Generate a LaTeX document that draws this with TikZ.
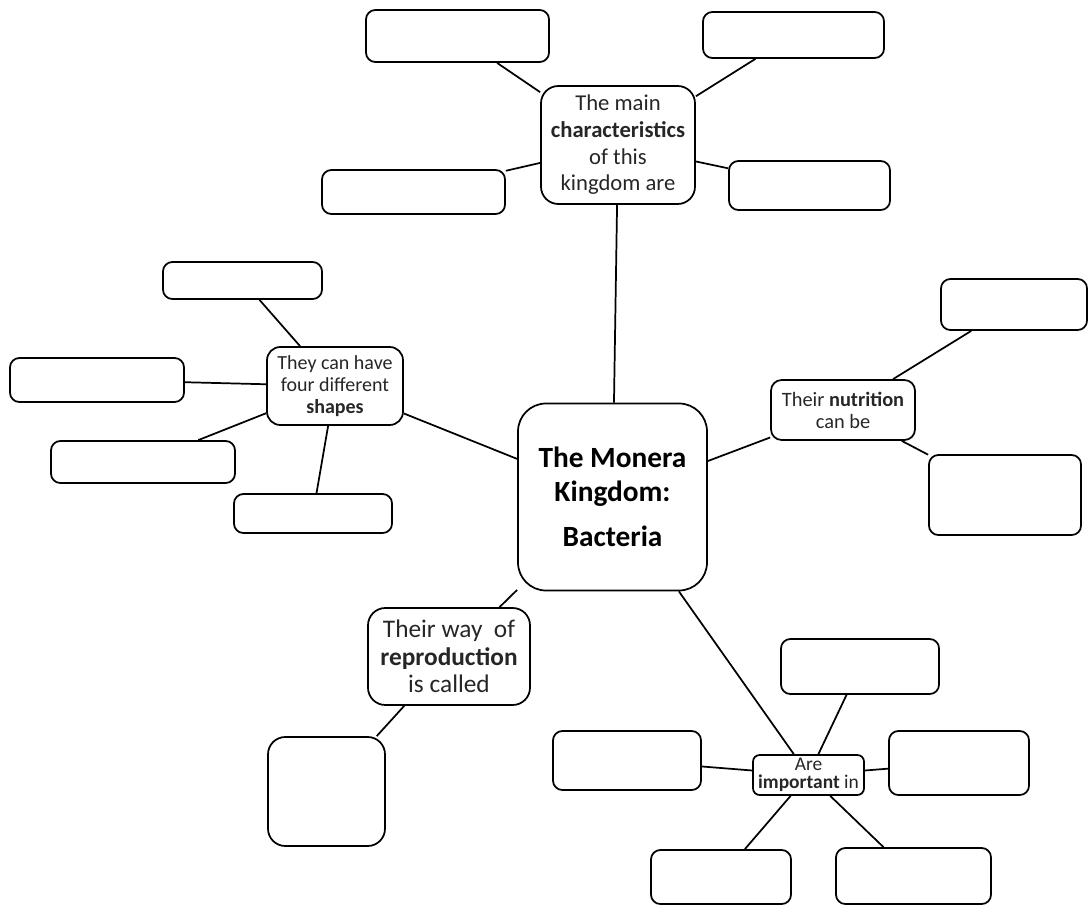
\documentclass[tikz,border=0pt]{standalone}
\usepackage{fontspec}
\setmainfont{Carlito}

\tikzset{
	sz/.style 2 args={minimum width=#1*0.75pt, minimum height=#2*0.75pt},
	blank/.style={draw, line width=1.3pt, rounded corners=7pt, inner sep=0pt},
	bubble/.style={draw, line width=1.3pt, rounded corners=8pt, inner sep=0pt, align=center, text=black!85},
	link/.style={line width=1.3pt}
}

\begin{document}
\begin{tikzpicture}[x=0.75pt, y=-0.75pt]
		\useasboundingbox (0,0) rectangle (1089,906);

		\node[bubble, sz={189}{187}, rounded corners=21pt, text=black, font=\bfseries\fontsize{22}{25}\selectfont] (monera) at (612.5,497) {The Monera\\ Kingdom:\\[9pt] Bacteria};
		\node[bubble, sz={154}{118}, rounded corners=13pt, font=\fontsize{17}{20}\selectfont] (traits) at (618,145) {The main\\ \textbf{characteristics}\\ of this\\ kingdom are};
		\node[bubble, sz={136}{78}, rounded corners=10pt, font=\fontsize{15}{16.5}\selectfont] (shapes) at (335,386) {They can have\\ four different\\ \textbf{shapes}};
		\node[bubble, sz={144}{60}, font=\fontsize{15.3}{16.5}\selectfont] (food) at (843,410) {Their \textbf{nutrition}\\ can be};
		\node[bubble, sz={162}{97}, rounded corners=13pt, font=\fontsize{19}{20.5}\selectfont] (repro) at (449,656.5) {Their way~ of\\ \textbf{reproduction}\\ is called};
		\node[bubble, sz={111}{40}, rounded corners=5pt, font=\fontsize{14.6}{13.5}\selectfont] (useful) at (808.5,775) {Are\\ \textbf{important} in};

		\foreach \name/\x/\y/\w/\h in {
			tA/457.5/36/183/52, tB/793.5/35/181/46, tC/413.5/192/183/44, tD/809.5/185.5/161/49,
			sA/242.5/280.5/159/37, sB/97/380/174/44, sC/143/462/184/42, sD/313/513.5/158/39,
			fA/1014/304.5/146/51, fB/1005/495/152/80,
			uA/860/666.5/158/55, uB/627/760.5/148/59, uC/959/763/140/64, uD/721/877/140/54, uE/913.5/876/155/56} {
			\node[blank, sz={\w}{\h}] (\name) at (\x,\y) {};
		}
		\node[blank, sz={117}{109}, rounded corners=13pt] (rA) at (326.5,791.5) {};

		\foreach \a/\b in {monera/traits, monera/shapes, monera/food, monera/repro, monera/useful,
			traits/tA, traits/tB, traits/tC, traits/tD,
			shapes/sA, shapes/sB, shapes/sC, shapes/sD,
			food/fA, food/fB, repro/rA,
			useful/uA, useful/uB, useful/uC, useful/uD, useful/uE} {
			\draw[link] (\a) -- (\b);
		}
	\end{tikzpicture}
\end{document}
